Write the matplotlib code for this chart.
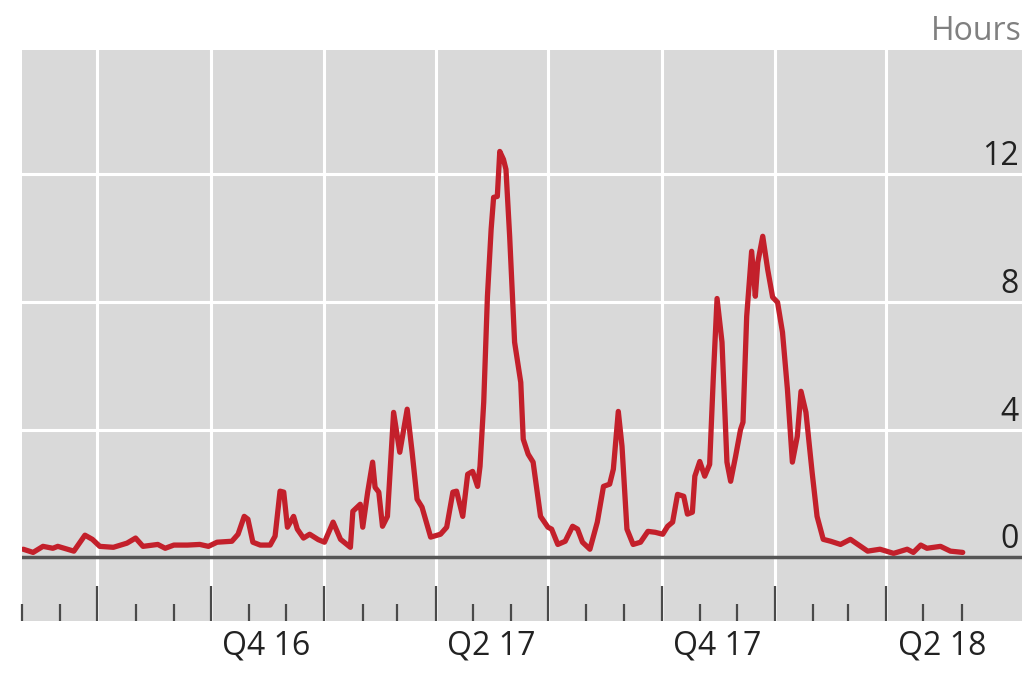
import numpy as np
import matplotlib
matplotlib.use('Agg')
import matplotlib.pyplot as plt
import matplotlib.dates as mdates
import matplotlib.transforms as mtransforms

plt.rcParams['font.family'] = ['Open Sans', 'DejaVu Sans']

# days since 2016-05-01 and hours
days = [1, 9, 17, 25, 29, 42, 51, 57, 63, 74, 85, 92, 98, 110, 116, 123, 134, 144,
        151, 158, 170, 175, 180, 183, 187, 193, 201, 205, 209, 212, 215, 220, 223,
        228, 233, 240, 245, 252, 258, 266, 268, 274, 276, 280, 284, 286, 289, 292,
        296, 301, 306, 312, 316, 320, 324, 331, 339, 344, 349, 352, 357, 361, 365,
        369, 371, 374, 377, 380, 382, 385, 387, 390, 392, 395, 399, 404, 406, 410,
        414, 420, 426, 429, 434, 440, 446, 450, 454, 460, 466, 471, 476, 479, 483,
        486, 490, 495, 501, 507, 513, 519, 523, 527, 531, 536, 539, 543, 545, 549,
        553, 557, 560, 563, 567, 571, 574, 578, 582, 584, 587, 591, 594, 596, 600,
        604, 608, 612, 616, 620, 624, 628, 631, 635, 640, 644, 649, 655, 663, 671,
        677, 685, 695, 706, 717, 722, 728, 733, 744, 752, 762]
hours = [0.25, 0.15, 0.34, 0.28, 0.34, 0.19, 0.69, 0.56, 0.34, 0.31, 0.44, 0.60, 0.34,
         0.40, 0.28, 0.38, 0.38, 0.40, 0.34, 0.47, 0.50, 0.72, 1.28, 1.19, 0.47, 0.38,
         0.38, 0.66, 2.07, 2.04, 0.94, 1.28, 0.88, 0.60, 0.72, 0.55, 0.47, 1.10, 0.56,
         0.31, 1.44, 1.66, 0.94, 2.04, 2.98, 2.19, 2.04, 0.97, 1.28, 4.54, 3.29, 4.64,
         3.29, 1.82, 1.57, 0.63, 0.72, 0.94, 2.04, 2.07, 1.28, 2.60, 2.69, 2.22, 2.85,
         4.86, 8.18, 10.28, 11.28, 11.31, 12.72, 12.47, 12.16, 10.06, 6.74, 5.48, 3.70,
         3.23, 2.98, 1.28, 0.94, 0.88, 0.40, 0.50, 0.97, 0.88, 0.47, 0.25, 1.10, 2.22,
         2.29, 2.76, 4.57, 3.48, 0.88, 0.40, 0.47, 0.81, 0.78, 0.72, 0.97, 1.10, 1.97,
         1.91, 1.35, 1.41, 2.54, 3.00, 2.54, 2.91, 5.67, 8.11, 6.74, 2.98, 2.38, 3.16,
         4.00, 4.23, 7.55, 9.59, 8.18, 9.24, 10.06, 9.02, 8.15, 7.99, 7.05, 5.26, 2.98,
         3.79, 5.20, 4.54, 2.66, 1.28, 0.56, 0.50, 0.40, 0.56, 0.40, 0.19, 0.25, 0.12,
         0.25, 0.15, 0.38, 0.28, 0.34, 0.19, 0.15]

y_ticks = [0, 4, 8, 12]
q_labels = ['Q4 16', 'Q2 17', 'Q4 17', 'Q2 18']
q_label_dates = ['2016-11-15', '2017-05-16', '2017-11-15', '2018-05-16']

dates = np.datetime64('2016-05-01') + np.array(days).astype('timedelta64[D]')

# monthly ticks May 2016 .. Jun 2018, quarters get long ticks + gridlines
months = np.arange('2016-05', '2018-07', dtype='datetime64[M]')
quarters = [m for m in months if int(str(m)[5:7]) in (1, 4, 7, 10)]
minor = [m for m in months if int(str(m)[5:7]) not in (1, 4, 7, 10)]

fig = plt.figure(figsize=(10.34, 6.75), dpi=100)
ax = fig.add_axes([22 / 1034, 54 / 675, 1000 / 1034, 571 / 675])
ax.set_facecolor('#d9d9d9')
for s in ax.spines.values():
    s.set_visible(False)

ax.plot(dates, hours, color='#c3202b', lw=3.8, solid_joinstyle='round',
        solid_capstyle='round', zorder=3)
ax.axhline(0, color='#555555', lw=2.5, zorder=2)

ax.set_xlim(np.datetime64('2016-05-01'), np.datetime64('2018-07-20'))
ax.set_ylim(-2, 15.9)

ax.set_xticks(mdates.date2num(np.array(quarters, dtype='datetime64[D]')))
ax.set_xticks(mdates.date2num(np.array(minor, dtype='datetime64[D]')), minor=True)
ax.tick_params(axis='x', which='major', direction='in', length=25, width=1.6,
               color='#4a4a4a', labelbottom=False)
ax.tick_params(axis='x', which='minor', direction='in', length=12, width=1.6,
               color='#4a4a4a', labelbottom=False)
ax.set_yticks(y_ticks)
ax.tick_params(axis='y', length=0, labelleft=False)
ax.grid(True, which='major', color='white', lw=2.2)
ax.set_axisbelow(True)

ytrans = mtransforms.blended_transform_factory(ax.transAxes, ax.transData)
for v in y_ticks:
    ax.text(0.997, v + 0.28, str(v), transform=ytrans, ha='right', va='baseline',
            fontsize=23, color='#222222')

trans = mtransforms.blended_transform_factory(ax.transData, fig.transFigure)
for lab, d in zip(q_labels, q_label_dates):
    ax.text(np.datetime64(d), 20 / 675, lab, transform=trans, ha='center', va='baseline',
            fontsize=23, color='#222222')

fig.text(1022 / 1034, 1 - 40 / 675, 'Hours', ha='right', va='baseline', fontsize=23,
         color='#808080')

fig.savefig('out.png', dpi=100)
